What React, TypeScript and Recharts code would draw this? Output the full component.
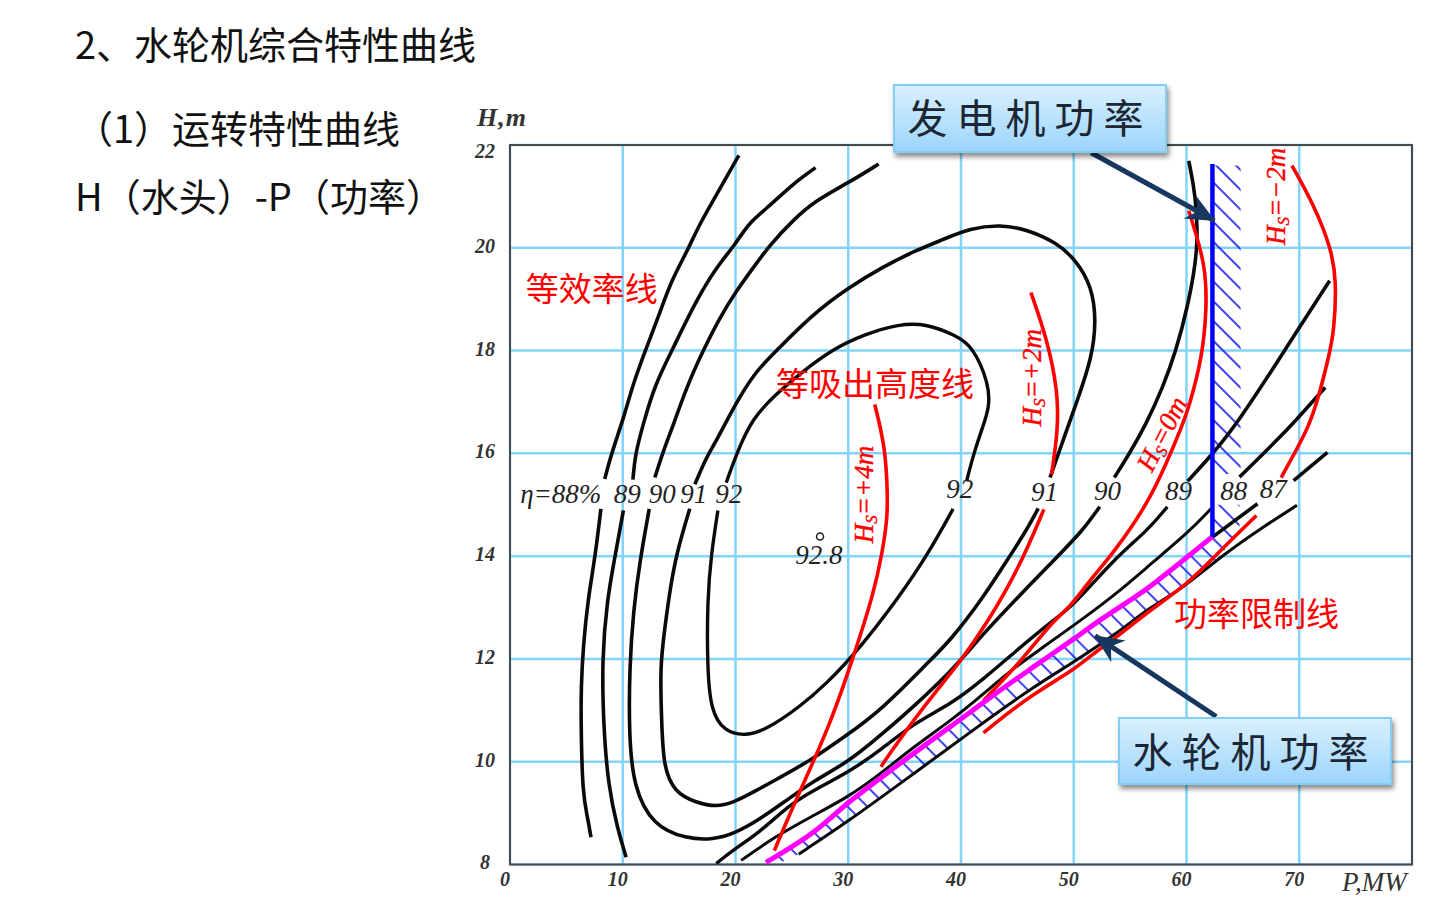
import { ComposedChart, Line, Area, XAxis, YAxis, CartesianGrid, ReferenceArea, ReferenceDot, Scatter } from 'recharts';

type Pt = [number, number];

const pTicks = [0, 10, 20, 30, 40, 50, 60, 70];
const hTicks = [8, 10, 12, 14, 16, 18, 20, 22];

// efficiency curves, [P MW, H m], split where the number labels sit
const eff88Upper: Pt[] = [[20.3, 21.8], [18.6, 21.14], [16.8, 20.46], [15.8, 19.97], [14.3, 19.36], [13.3, 18.74], [12.0, 18.0], [10.9, 17.34], [10.1, 16.7], [9.0, 16.0], [8.4, 15.5]];
const eff88Lower: Pt[] = [[8.06, 14.92], [7.55, 13.98], [6.9, 13.14], [6.5, 12.26], [6.3, 11.45], [6.3, 10.67], [6.44, 9.37], [6.88, 8.92], [7.18, 8.53]];
const eff89Upper: Pt[] = [[27.1, 21.56], [25.06, 21.24], [22.7, 20.75], [21.2, 20.49], [19.9, 20.04], [18.3, 19.62], [16.5, 18.97], [14.5, 18.06], [12.85, 17.34], [11.8, 16.56], [11.1, 15.98], [10.9, 15.49]];
const eff89Lower: Pt[] = [[10.06, 14.89], [9.3, 13.98], [8.6, 13.14], [8.15, 11.97], [8.3, 10.67], [8.7, 9.56], [9.5, 8.72], [10.3, 8.14]];
const eff90Upper: Pt[] = [[32.7, 21.63], [30.06, 21.27], [27.1, 20.92], [25.06, 20.53], [23.0, 20.04], [21.8, 19.68], [20.06, 19.16], [18.6, 18.64], [17.1, 17.99], [15.65, 17.28], [14.5, 16.56], [13.6, 16.05], [12.85, 15.53]];
const eff90Lower: Pt[] = [[12.35, 14.92], [11.53, 13.92], [10.94, 12.94], [10.6, 11.84], [10.55, 10.54], [10.95, 9.5], [12.7, 8.75], [15.65, 8.5], [18.0, 8.48], [20.06, 8.62], [22, 8.86], [24.35, 9.22], [27, 9.64], [30.06, 10.0], [32.9, 10.52], [35.8, 11.07], [39.2, 11.78], [40.97, 12.23], [42, 12.49], [44.9, 13.17], [48.5, 13.98], [50.8, 14.5], [52.3, 14.96]];
const eff90Right: Pt[] = [[53.6, 15.53], [54.9, 15.98], [56.4, 16.56], [57.9, 17.28], [59.06, 17.99], [60.1, 18.84], [61.1, 20.0], [60.8, 21.05], [60.2, 21.69]];
const eff91Upper: Pt[] = [[47.9, 15.53], [49.35, 16.44], [50.4, 17.08], [51.6, 17.86], [52.0, 18.58], [51.6, 19.25], [50.2, 19.76], [48.5, 20.1], [45.8, 20.36], [43.5, 20.45], [40.8, 20.38], [38.4, 20.16], [35.9, 19.94], [33, 19.62], [30.06, 19.23], [26.8, 18.7], [23.6, 17.99], [21.8, 17.6], [20.06, 16.99], [18.3, 16.24], [17.4, 15.92], [16.4, 15.4]];
const eff91Lower: Pt[] = [[15.94, 14.92], [14.76, 14.05], [14.18, 13.33], [13.74, 12.62], [13.3, 11.84], [13.45, 10.8], [13.6, 9.9], [14.6, 9.4], [16.53, 9.2], [18.3, 9.12], [19.76, 9.2], [21.7, 9.42], [24.06, 9.71], [26.7, 10.03], [29.9, 10.52], [32.9, 11.0], [37.3, 11.98], [39.06, 12.36], [42, 13.2], [44.35, 14.01], [45.8, 14.5], [46.85, 14.93]];
const eff92Upper: Pt[] = [[40.5, 15.46], [41.1, 15.98], [42, 16.56], [42.5, 16.89], [42.5, 17.35], [41, 18.1], [39.47, 18.3], [37, 18.52], [34.47, 18.52], [31.5, 18.32], [28.6, 18.03], [25.65, 17.54], [23.6, 17.15], [21.5, 16.69], [20.06, 15.98], [19.18, 15.43]];
const eff92Lower: Pt[] = [[18.44, 14.89], [17.85, 14.05], [17.5, 13.14], [17.5, 11.84], [17.8, 11.0], [19, 10.58], [20.94, 10.5], [22.7, 10.62], [25.65, 11.06], [28, 11.5], [31, 12.2], [34.5, 13.2], [37.1, 14.05], [39.3, 14.92]];
const diag89Lower: Pt[] = [[18.3, 8.02], [19.94, 8.31], [22, 8.6], [24.94, 9.19], [27, 9.45], [30.06, 9.8], [32.9, 10.23], [35.8, 10.75], [39.2, 11.13], [42, 11.61], [44.9, 12.16], [47.9, 12.71], [50, 13.04], [53.5, 13.93], [56.56, 14.5], [58.3, 14.96]];
const diag89Upper: Pt[] = [[60.1, 15.46], [62.3, 15.98], [64.65, 16.63], [68.5, 17.93], [69.8, 18.38], [72.7, 19.36]];
const diag88Lower: Pt[] = [[20.5, 8.08], [23.5, 8.54], [26.7, 8.93], [30.06, 9.32], [32.9, 9.77], [35.8, 10.29], [39.35, 10.84], [42, 11.32], [44.35, 11.77], [47.3, 12.23], [50.8, 12.78], [53.8, 13.27], [57, 13.88], [60.2, 14.47], [62.16, 14.92]];
const diag88Upper: Pt[] = [[64.7, 15.54], [68, 16.25], [69.65, 16.63], [72.3, 17.28]];
const diag87Lower: Pt[] = [[62.3, 14.37], [66.3, 15.02]];
const diag87Upper: Pt[] = [[69.5, 15.47], [72.5, 16.02]];
const bottomEdge: Pt[] = [[25.6, 8.2], [30.06, 8.85], [34.5, 9.56], [38, 10.12], [42.6, 10.86], [46.4, 11.45], [50, 11.94], [53.8, 12.49], [56.7, 13.0], [59.6, 13.36], [63.2, 14.02], [66.8, 14.57], [69.8, 14.99]];

// suction height curves
const hs4: Pt[] = [[32.35, 16.95], [33.3, 16.11], [33.5, 15.14], [33.44, 14.69], [33, 14.05], [32.26, 13.27], [30.35, 11.97], [28.6, 10.86], [26.8, 9.95], [25.06, 9.11], [23.44, 8.27]];
const hs2Upper: Pt[] = [[46.2, 19.13], [47.6, 18.25], [48.6, 17.21], [48.6, 16.44], [48.03, 15.59]];
const hs2Lower: Pt[] = [[47.35, 14.91], [45.2, 13.79], [42.3, 12.69], [39.9, 11.93], [36.4, 11.0], [33.5, 10.1], [32.9, 9.9]];
const hs0: Pt[] = [[60.2, 20.72], [61.7, 19.68], [61.8, 18.84], [61.4, 17.86], [60.2, 16.89], [59.65, 16.56], [58.2, 15.79], [56.5, 15.0], [53.5, 14.05], [51.4, 13.53], [49.8, 13.04], [47.9, 12.68], [45.4, 11.97], [42, 11.19]];
const hsM2Upper: Pt[] = [[69.35, 21.6], [71.4, 20.79], [72.85, 19.97], [73.3, 19.36], [73.1, 18.38], [72.6, 17.86], [71.7, 17.08], [70.8, 16.5], [69.6, 16.01], [68.4, 15.53]];
const hsM2Lower: Pt[] = [[66.2, 14.79], [63.05, 14.12], [60.2, 13.47], [56.7, 12.94], [53.8, 12.42], [51.7, 12.1], [49.9, 11.77], [46.4, 11.32], [42.9, 10.73], [42, 10.56]];

// power limits
const turbinePower: Pt[] = [[22.7, 8.04], [27.1, 8.66], [30.06, 9.21], [34.5, 9.95], [40.6, 10.93], [42.6, 11.25], [46.4, 11.84], [50, 12.39], [52.3, 12.75], [56.7, 13.4], [59.6, 13.9], [62.3, 14.38]];
const generatorPower: Pt[] = [[62.3, 21.63], [62.3, 14.38]];

// hatched zones: [P, low H, high H]
const turbineHatch = [[23.5, 8.0, 8.15], [25.6, 8.2, 8.45], [30.06, 8.85, 9.21], [34.5, 9.56, 9.95], [40.6, 10.54, 10.93], [42.6, 10.86, 11.25], [46.4, 11.45, 11.84], [50, 11.94, 12.39], [53.8, 12.49, 12.97], [56.7, 13.0, 13.4], [59.6, 13.36, 13.9], [62.3, 13.85, 14.38]];
const generatorHatchUpper = [[62.3, 15.6, 21.6], [64.8, 15.6, 21.6]];
const generatorHatchLower = [[62.3, 13.85, 15.0], [64.7, 14.45, 15.0]];

const arrowGenerator: Pt[] = [[51.55, 21.85], [62.47, 20.53]];
const arrowTurbine: Pt[] = [[62.64, 10.88], [51.9, 12.45]];

const bestPoint = [{ p: 27.5, h: 14.38 }];

const effLabels: [string, number, number][] = [
    ['η=88%', 4.5, 15.2], ['89', 10.4, 15.2], ['90', 13.5, 15.2], ['91', 16.3, 15.2], ['92', 19.4, 15.2],
    ['92', 39.9, 15.3], ['91', 47.4, 15.24], ['90', 53, 15.26], ['89', 59.3, 15.26], ['88', 64.2, 15.26], ['87', 67.7, 15.3],
    ['92.8', 27.4, 14.03],
];
const hsLabels: [string, string, number, number, number][] = [
    ['+4m', '=', 31.5, 15.2, -90], ['+2m', '=', 46.4, 17.47, -90], ['0m', '=', 57.9, 16.37, -63], ['−2m', '=', 68.05, 21.0, -90],
];
const zoneLabels: [string, number, number][] = [
    ['等效率线', 1.4, 19.2], ['等吸出高度线', 23.6, 17.34], ['功率限制线', 58.9, 12.88],
];

const BLACK = '#0a0a0a';
const RED = '#ff0000';
const SERIF = '"Liberation Serif", serif';
const CJK = '"Noto Sans CJK SC", sans-serif';

const blackCurves: [Pt[], number][] = [
    [eff88Upper, 3.6], [eff88Lower, 3.6], [eff89Upper, 3.6], [eff89Lower, 3.6], [eff90Upper, 3.6], [eff90Lower, 3.6], [eff90Right, 3.6],
    [eff91Upper, 3.6], [eff91Lower, 3.6], [eff92Upper, 3.4], [eff92Lower, 3.4],
    [diag89Lower, 3.4], [diag89Upper, 3.6], [diag88Lower, 3], [diag88Upper, 3.6], [diag87Lower, 3.6], [diag87Upper, 3.6], [bottomEdge, 3],
];
const redCurves = [hs4, hs2Upper, hs2Lower, hs0, hsM2Upper, hsM2Lower];

const toPoints = (pts: Pt[]) => pts.map(([p, h]) => ({ p, h }));
const toBand = (rows: number[][]) => rows.map(([p, lo, hi]) => ({ p, band: [lo, hi] }));

const XTick = ({ x, y, payload }: any) => (
    <text x={x - 5} y={y + 13} textAnchor="middle" fontFamily={SERIF} fontStyle="italic" fontWeight="bold" fontSize={20} fill="#333">
        {payload.value}
    </text>
);

const YTick = ({ x, y, payload }: any) => (
    <text x={x - 17} y={y + (payload.value === 22 ? 13 : payload.value === 8 ? 4 : 5)} textAnchor="middle" fontFamily={SERIF} fontStyle="italic" fontWeight="bold" fontSize={20} fill="#333">
        {payload.value}
    </text>
);

const boxStyle = {
    position: 'absolute' as const,
    boxSizing: 'border-box' as const,
    background: 'linear-gradient(#d8f0ff, #9dd5fb)',
    border: '2px solid #86cdf3',
    boxShadow: '2px 4px 5px rgba(0,0,0,0.45)',
    display: 'flex',
    alignItems: 'center',
    justifyContent: 'center',
    fontFamily: CJK,
    fontSize: 40,
    letterSpacing: 9,
    color: '#1c2733',
    lineHeight: 1,
};

const headingStyle = {
    position: 'absolute' as const,
    left: 75,
    fontFamily: CJK,
    fontSize: 38,
    lineHeight: '50px',
    color: '#111',
    whiteSpace: 'nowrap' as const,
};

export default function App() {
    return (
        <div style={{ position: 'absolute', left: 0, top: 0, width: 1430, height: 899, background: '#fff', overflow: 'hidden' }}>
            <ComposedChart
                width={1430}
                height={899}
                margin={{ top: 145, right: 18, left: 470, bottom: 4.5 }}
                style={{ position: 'absolute', left: 0, top: 0 }}
            >
                <defs>
                    <pattern id="hatch" width={14} height={14} patternUnits="userSpaceOnUse" patternTransform="rotate(-45)">
                        <line x1={1} y1={0} x2={1} y2={14} stroke="#2b2bea" strokeWidth={1.8} />
                    </pattern>
                    <marker id="arrowHead" markerUnits="userSpaceOnUse" markerWidth={32} markerHeight={32} refX={29} refY={16} orient="auto">
                        <path d="M30 16 L1 3 L10 16 L1 29 Z" fill="#17375e" />
                    </marker>
                </defs>
                <CartesianGrid stroke="#84d3f8" strokeWidth={2.5} />
                <XAxis type="number" dataKey="p" domain={[0, 80]} ticks={pTicks} height={30} tickLine={false} axisLine={false} tick={<XTick />} interval={0} />
                <YAxis type="number" dataKey="h" domain={[8, 22]} ticks={hTicks} width={40} tickLine={false} axisLine={false} tick={<YTick />} interval={0} />
                <ReferenceArea x1={0} x2={80} y1={8} y2={22} fill="none" stroke="#4a4a4a" strokeWidth={2} />

                <Area data={toBand(turbineHatch)} dataKey="band" type="monotone" stroke="none" fill="url(#hatch)" fillOpacity={1} isAnimationActive={false} dot={false} activeDot={false} />
                <Area data={toBand(generatorHatchUpper)} dataKey="band" type="linear" stroke="none" fill="url(#hatch)" fillOpacity={1} isAnimationActive={false} dot={false} activeDot={false} />
                <Area data={toBand(generatorHatchLower)} dataKey="band" type="linear" stroke="none" fill="url(#hatch)" fillOpacity={1} isAnimationActive={false} dot={false} activeDot={false} />

                {blackCurves.map(([pts, w], i) => (
                    <Line key={`black-${i}`} data={toPoints(pts)} dataKey="h" type="basis" stroke={BLACK} strokeWidth={w} dot={false} activeDot={false} isAnimationActive={false} />
                ))}
                {redCurves.map((pts, i) => (
                    <Line key={`red-${i}`} data={toPoints(pts)} dataKey="h" type="basis" stroke={RED} strokeWidth={3.6} dot={false} activeDot={false} isAnimationActive={false} />
                ))}
                <Line data={toPoints(turbinePower)} dataKey="h" type="monotone" stroke="#ff00ff" strokeWidth={5} dot={false} activeDot={false} isAnimationActive={false} />
                <Line data={toPoints(generatorPower)} dataKey="h" type="linear" stroke="#0000ff" strokeWidth={4.5} dot={false} activeDot={false} isAnimationActive={false} />
                <Line data={toPoints(arrowGenerator)} dataKey="h" type="linear" stroke="#17375e" strokeWidth={5} dot={false} activeDot={false} isAnimationActive={false} markerEnd="url(#arrowHead)" />
                <Line data={toPoints(arrowTurbine)} dataKey="h" type="linear" stroke="#17375e" strokeWidth={5} dot={false} activeDot={false} isAnimationActive={false} markerEnd="url(#arrowHead)" />
                <Scatter data={bestPoint} dataKey="h" fill="#fff" stroke="#222" strokeWidth={1.5} isAnimationActive={false} shape={(s: any) => <circle cx={s.cx} cy={s.cy} r={3.5} fill="#fff" stroke="#222" strokeWidth={1.5} />} />

                {effLabels.map(([text, p, h], i) => (
                    <ReferenceDot
                        key={`eff-${i}`}
                        x={p}
                        y={h}
                        r={0}
                        shape={(s: any) => (
                            <text x={s.cx} y={s.cy + 9} textAnchor="middle" fontFamily={SERIF} fontStyle="italic" fontSize={27} fill="#222">
                                {text}
                            </text>
                        )}
                    />
                ))}
                {hsLabels.map(([value, eq, p, h, angle], i) => (
                    <ReferenceDot
                        key={`hs-${i}`}
                        x={p}
                        y={h}
                        r={0}
                        shape={(s: any) => (
                            <text
                                transform={`translate(${s.cx},${s.cy}) rotate(${angle})`}
                                textAnchor="middle"
                                y={8}
                                fontFamily={SERIF}
                                fontStyle="italic"
                                fontSize={27}
                                fill={RED}
                                stroke={RED}
                                strokeWidth={0.4}
                            >
                                H<tspan fontSize={17} dy={4}>S</tspan>
                                <tspan dy={-4}>{eq}{value}</tspan>
                            </text>
                        )}
                    />
                ))}
                {zoneLabels.map(([text, p, h], i) => (
                    <ReferenceDot
                        key={`zone-${i}`}
                        x={p}
                        y={h}
                        r={0}
                        shape={(s: any) => (
                            <text x={s.cx} y={s.cy + 12} fontFamily={CJK} fontSize={33} fill={RED}>
                                {text}
                            </text>
                        )}
                    />
                ))}
            </ComposedChart>

            <div style={{ ...headingStyle, top: 18 }}>2、水轮机综合特性曲线</div>
            <div style={{ ...headingStyle, top: 102 }}>（1）运转特性曲线</div>
            <div style={{ ...headingStyle, top: 170 }}>H（水头）-P（功率）</div>

            <div style={{ position: 'absolute', left: 477, top: 103, fontFamily: SERIF, fontStyle: 'italic', fontWeight: 'bold', fontSize: 26, letterSpacing: 1, color: '#333', lineHeight: '30px' }}>H,m</div>
            <div style={{ position: 'absolute', left: 1342, top: 867, fontFamily: SERIF, fontStyle: 'italic', fontSize: 27, color: '#333', lineHeight: '30px' }}>P,MW</div>

            <div style={{ ...boxStyle, left: 893, top: 84, width: 274, height: 69, paddingBottom: 6 }}>发电机功率</div>
            <div style={{ ...boxStyle, left: 1118, top: 717, width: 274, height: 68, paddingBottom: 3 }}>水轮机功率</div>
        </div>
    );
}
